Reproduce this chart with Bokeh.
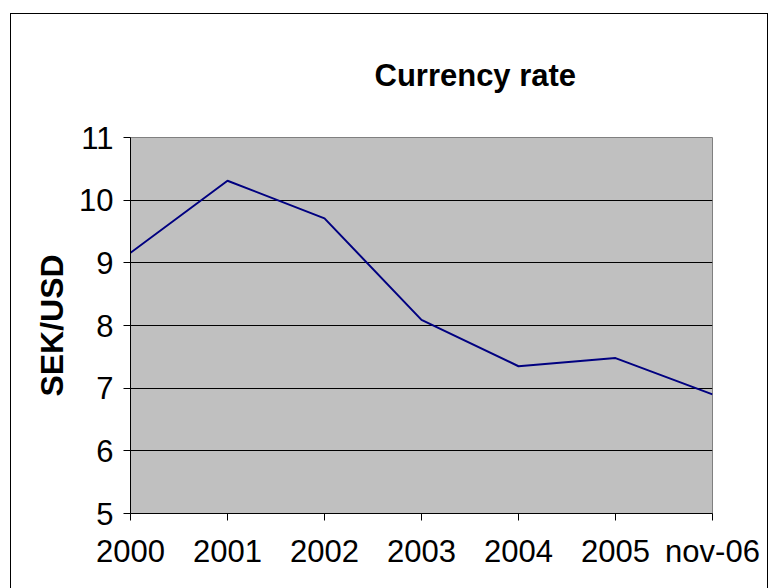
from bokeh.plotting import figure
from bokeh.models import FixedTicker, Title
from bokeh.embed import file_html
from bokeh.resources import INLINE

categories = ["2000", "2001", "2002", "2003", "2004", "2005", "nov-06"]
rates = [9.16, 10.31, 9.71, 8.09, 7.35, 7.48, 6.90]
y_ticks = [5, 6, 7, 8, 9, 10, 11]
title_text = "Currency rate"

xs = list(range(len(categories)))
FONT = "Liberation Sans"

p = figure(width=758, height=576, output_backend="svg", toolbar_location=None,
           x_range=(0, len(categories) - 1), y_range=(5, 11),
           min_border_left=119, min_border_right=57, min_border_top=123, min_border_bottom=77,
           background_fill_color="#C0C0C0", border_fill_color="white")
p.margin = (13, 0, 0, 10)
p.styles = {"border": "1px solid black", "border-bottom": "none", "box-sizing": "border-box"}

p.line(xs, rates, line_color="#000080", line_width=2)

p.add_layout(Title(text=title_text, align="left", offset=244, standoff=86, vertical_align="top",
                   text_font=FONT, text_font_size="31px", text_font_style="bold",
                   text_color="black"), "above")

p.xgrid.grid_line_color = None
p.ygrid.grid_line_color = "black"
p.ygrid.grid_line_width = 1
p.ygrid.ticker = FixedTicker(ticks=y_ticks)

p.outline_line_color = "#808080"
p.outline_line_width = 1

p.xaxis.ticker = FixedTicker(ticks=xs)
p.xaxis.major_label_overrides = {i: c for i, c in enumerate(categories)}
p.yaxis.ticker = FixedTicker(ticks=y_ticks)

for ax in (p.xaxis[0], p.yaxis[0]):
    ax.axis_line_color = "black"
    ax.major_tick_line_color = "black"
    ax.major_tick_out = 7
    ax.major_tick_in = 0
    ax.minor_tick_line_color = None
    ax.major_label_text_font = FONT
    ax.major_label_text_font_size = "31px"
    ax.major_label_text_color = "black"
    ax.major_label_standoff = 10

p.xaxis.major_label_standoff = 13
p.yaxis.axis_label = "SEK/USD"
p.yaxis.axis_label_text_font = FONT
p.yaxis.axis_label_text_font_size = "32px"
p.yaxis.axis_label_text_font_style = "bold"
p.yaxis.axis_label_text_color = "black"
p.yaxis.axis_label_standoff = 6

open("out.html", "w").write(file_html(p, INLINE))
